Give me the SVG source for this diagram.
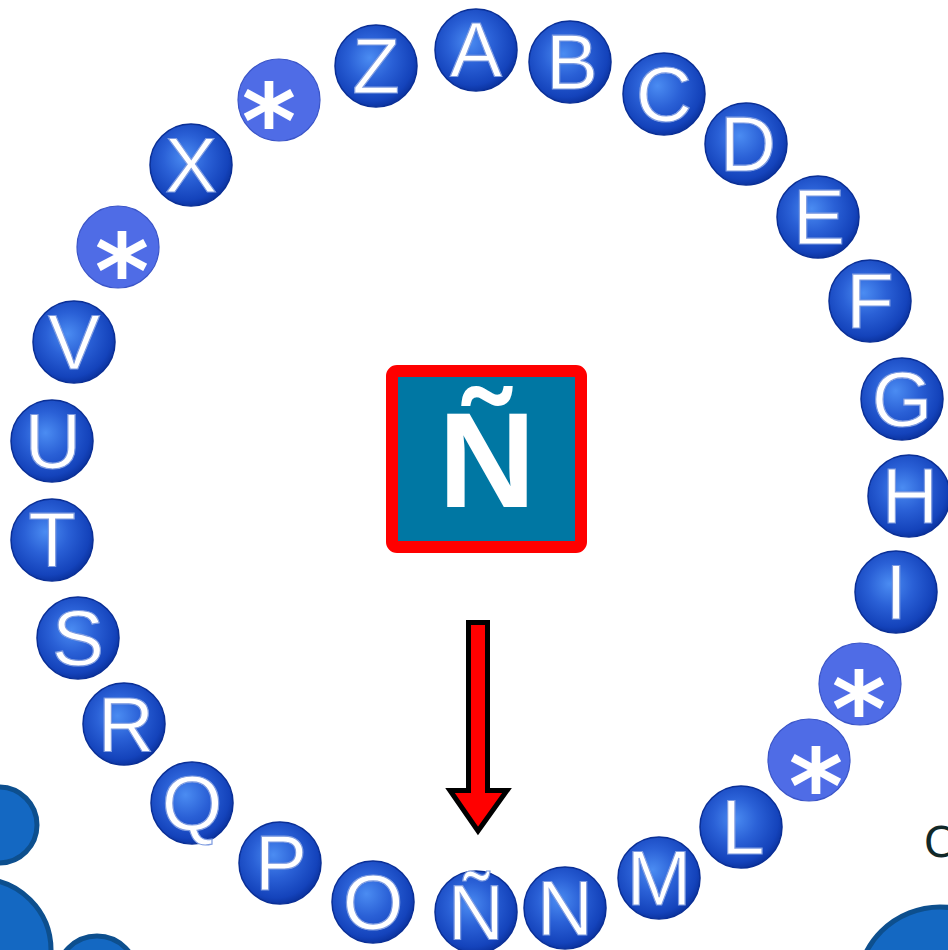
<svg xmlns="http://www.w3.org/2000/svg" width="948" height="950" viewBox="0 0 948 950">
<defs>
<radialGradient id="bub" cx="0.45" cy="0.42" r="0.6" fx="0.42" fy="0.4">
<stop offset="0" stop-color="#4b8cf2"/>
<stop offset="0.45" stop-color="#2a60d6"/>
<stop offset="0.85" stop-color="#1443bb"/>
<stop offset="1" stop-color="#0a319c"/>
</radialGradient>
<style>
.b{fill:url(#bub);stroke:#0a2f96;stroke-width:1.5}
.s{fill:#4f6ce6;stroke:#3b55c8;stroke-width:1.2}
.l{font-family:"Liberation Sans",Arial,sans-serif;font-size:78px;fill:#ffffff;text-anchor:middle;stroke:#7f9ce0;stroke-width:1.2}
.a{font-family:"DejaVu Sans",sans-serif;font-weight:bold;font-size:104px;fill:#ffffff;text-anchor:middle}
.d{fill:#1468c2;stroke:#0d4f8e;stroke-width:5}
</style>
</defs>
<rect width="948" height="950" fill="#ffffff"/>
<g id="decor">
<circle class="d" cx="-1" cy="825" r="38"/>
<circle class="d" cx="-20" cy="950" r="71"/>
<circle class="d" cx="97" cy="976" r="40"/>
<circle class="d" cx="940" cy="990" r="83"/>
<text x="924" y="857" font-family="DejaVu Sans,sans-serif" font-size="42" fill="#102828">C</text>
</g>
<g id="n-A"><circle class="b" cx="476" cy="50" r="41"/><text class="l" x="476" y="77">A</text></g>
<g id="n-B"><circle class="b" cx="570" cy="62" r="41"/><text class="l" x="572" y="89">B</text></g>
<g id="n-C"><circle class="b" cx="664" cy="94" r="41"/><text class="l" x="664" y="121">C</text></g>
<g id="n-D"><circle class="b" cx="746" cy="144" r="41"/><text class="l" x="748" y="171">D</text></g>
<g id="n-E"><circle class="b" cx="818" cy="217" r="41"/><text class="l" x="819" y="244">E</text></g>
<g id="n-F"><circle class="b" cx="870" cy="301" r="41"/><text class="l" x="870" y="328">F</text></g>
<g id="n-G"><circle class="b" cx="902" cy="399" r="41"/><text class="l" x="902" y="426">G</text></g>
<g id="n-H"><circle class="b" cx="909" cy="496" r="41"/><text class="l" x="910" y="523">H</text></g>
<g id="n-I"><circle class="b" cx="896" cy="592" r="41"/><text class="l" x="896" y="619">I</text></g>
<g id="n-s1"><circle class="s" cx="860" cy="684" r="41"/><text class="a" x="859" y="746">*</text></g>
<g id="n-s2"><circle class="s" cx="809" cy="760" r="41"/><text class="a" x="816" y="823">*</text></g>
<g id="n-L"><circle class="b" cx="741" cy="827" r="41"/><text class="l" x="743" y="854">L</text></g>
<g id="n-M"><circle class="b" cx="659" cy="878" r="41"/><text class="l" x="659" y="905">M</text></g>
<g id="n-N"><circle class="b" cx="565" cy="908" r="41"/><text class="l" x="565" y="935">N</text></g>
<g id="n-Enie"><circle class="b" cx="476" cy="912" r="41"/><text class="l" x="476" y="939">Ñ</text></g>
<g id="n-O"><circle class="b" cx="373" cy="902" r="41"/><text class="l" x="373" y="929">O</text></g>
<g id="n-P"><circle class="b" cx="280" cy="863" r="41"/><text class="l" x="281" y="890">P</text></g>
<g id="n-Q"><circle class="b" cx="192" cy="803" r="41"/><text class="l" x="192" y="830">Q</text></g>
<g id="n-R"><circle class="b" cx="124" cy="724" r="41"/><text class="l" x="126" y="751">R</text></g>
<g id="n-S"><circle class="b" cx="78" cy="638" r="41"/><text class="l" x="78" y="665">S</text></g>
<g id="n-T"><circle class="b" cx="52" cy="540" r="41"/><text class="l" x="52" y="567">T</text></g>
<g id="n-U"><circle class="b" cx="52" cy="441" r="41"/><text class="l" x="53" y="468">U</text></g>
<g id="n-V"><circle class="b" cx="74" cy="342" r="41"/><text class="l" x="74" y="369">V</text></g>
<g id="n-s3"><circle class="s" cx="118" cy="247" r="41"/><text class="a" x="122" y="308">*</text></g>
<g id="n-s4"><circle class="s" cx="279" cy="100" r="41"/><text class="a" x="269" y="158">*</text></g>
<g id="n-X"><circle class="b" cx="191" cy="165" r="41"/><text class="l" x="191" y="192">X</text></g>
<g id="n-Z"><circle class="b" cx="376" cy="66" r="41"/><text class="l" x="376" y="93">Z</text></g>
<g id="center">
<rect x="392" y="371" width="189" height="176" rx="5" fill="#0077a3" stroke="#ff0000" stroke-width="12"/>
<text x="487" y="507" font-family="Liberation Sans,Arial,sans-serif" font-weight="bold" font-size="135" fill="#ffffff" text-anchor="middle">Ñ</text>
</g>
<g id="connectors">
<polygon points="468.5,622.5 487.5,622.5 487.5,790.5 507,790.5 478,831 450,790.5 468.5,790.5" fill="#ff0000" stroke="#000000" stroke-width="5" stroke-linejoin="miter"/>
</g>
</svg>
